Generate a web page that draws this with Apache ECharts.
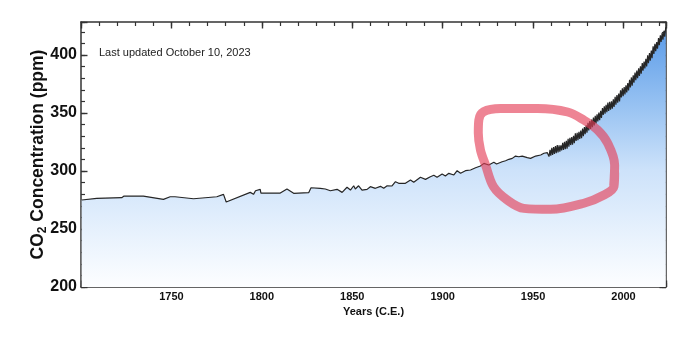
<!DOCTYPE html>
<html>
<head>
<meta charset="utf-8">
<title>CO2 Concentration</title>
<script src="https://cdn.jsdelivr.net/npm/echarts@6/dist/echarts.min.js"></script>
<style>
  html, body { margin: 0; padding: 0; background: #ffffff; }
  #chart { width: 700px; height: 338px; }
</style>
</head>
<body>
<div id="chart"></div>
<script>
// Ice-core record, 1700 to the late 1950s (year, ppm)
const iceCoreYears = [
  1700.4, 1708.7, 1722.5, 1723.8, 1734.5, 1745.6, 1749.3, 1752.0, 1752.6, 1762.2,
  1775.1, 1778.8, 1780.3, 1793.6, 1795.4, 1796.5, 1799.1, 1799.5, 1810.2, 1813.9,
  1817.6, 1825.9, 1827.2, 1832.3, 1835.1, 1837.9, 1841.6, 1844.4, 1847.1, 1849.0,
  1850.8, 1851.7, 1853.5, 1855.4, 1858.2, 1860.0, 1862.8, 1865.6, 1867.4, 1869.3,
  1872.0, 1873.9, 1875.7, 1876.6, 1879.4, 1882.2, 1884.0, 1887.7, 1890.5, 1893.2,
  1895.1, 1896.9, 1899.7, 1901.5, 1903.4, 1906.2, 1908.0, 1909.9, 1912.6, 1915.4,
  1918.2, 1920.9, 1922.8, 1925.5, 1928.3, 1929.8, 1932.9, 1934.8, 1936.6, 1938.5,
  1940.3, 1942.1, 1944.0, 1946.8, 1948.6, 1951.4, 1954.2, 1956.0, 1957.9
];
const iceCorePpm = [
  275.0, 276.5, 277.0, 278.4, 278.4, 275.6, 277.8, 277.8, 276.1, 276.1,
  277.8, 279.9, 273.3, 281.6, 279.9, 283.0, 284.2, 281.0, 281.0, 284.5,
  280.8, 281.3, 285.6, 285.1, 284.5, 283.0, 284.2, 281.6, 286.0, 283.6,
  287.3, 284.5, 287.3, 283.6, 284.2, 286.5, 285.1, 286.8, 285.1, 287.3,
  287.1, 290.8, 289.4, 289.9, 289.4, 292.2, 290.3, 294.6, 292.8, 295.1,
  296.3, 294.6, 297.4, 295.7, 298.0, 296.6, 300.3, 298.0, 300.3, 300.9,
  302.8, 304.3, 306.6, 305.2, 307.5, 306.0, 308.0, 308.9, 310.1, 310.9,
  312.9, 312.3, 312.9, 311.5, 310.9, 312.9, 313.8, 315.3, 315.8
];

// Direct atmospheric record: spring maximum and autumn minimum of each year (ppm)
const mloYears = [
  1958, 1959, 1960, 1961, 1962, 1963, 1964, 1965, 1966, 1967,
  1968, 1969, 1970, 1971, 1972, 1973, 1974, 1975, 1976, 1977,
  1978, 1979, 1980, 1981, 1982, 1983, 1984, 1985, 1986, 1987,
  1988, 1989, 1990, 1991, 1992, 1993, 1994, 1995, 1996, 1997,
  1998, 1999, 2000, 2001, 2002, 2003, 2004, 2005, 2006, 2007,
  2008, 2009, 2010, 2011, 2012, 2013, 2014, 2015, 2016, 2017,
  2018, 2019, 2020, 2021, 2022, 2023
];
const mloSpringMax = [
  317.5, 318.3, 320.0, 320.6, 321.6, 322.3, 322.2, 322.2, 324.4, 325.1,
  326.0, 327.8, 328.6, 329.3, 330.4, 332.5, 333.0, 333.9, 334.9, 336.7,
  338.0, 339.5, 341.5, 343.0, 344.3, 346.0, 347.6, 349.0, 350.4, 352.0,
  354.2, 355.9, 357.1, 359.1, 359.6, 360.2, 361.8, 364.0, 365.6, 366.8,
  369.5, 371.4, 372.4, 374.0, 375.9, 378.7, 380.7, 382.6, 384.9, 386.6,
  388.6, 390.3, 393.2, 394.3, 396.8, 399.8, 401.8, 403.9, 407.6, 409.6,
  411.2, 414.6, 417.1, 419.1, 421.0, 424.0
];
const mloAutumnMin = [
  312.4, 313.3, 313.8, 314.8, 315.4, 316.0, 316.7, 317.8, 318.1, 318.9,
  319.3, 321.0, 322.4, 322.8, 323.9, 325.9, 326.5, 327.6, 328.3, 330.1,
  331.7, 333.0, 335.1, 336.3, 337.7, 339.3, 341.0, 342.8, 343.9, 345.8,
  348.3, 349.4, 350.8, 351.8, 352.8, 353.7, 355.3, 357.1, 359.0, 359.9,
  363.5, 364.5, 366.0, 367.7, 369.5, 372.0, 373.6, 376.2, 378.3, 380.0,
  382.0, 384.0, 386.5, 388.5, 390.2, 393.0, 395.2, 397.3, 401.0, 403.4,
  405.5, 408.5, 411.4, 413.2, 415.9, null
];
// Observation months of the seasonal extremes (May and October)
const springMonth = 5;
const autumnMonth = 10;

// Hand-drawn highlight loop around the mid-century record (year, ppm)
const loopYears = [
  1994.6, 1995.1, 1991.2, 1985.7, 1978.0, 1969.1, 1952.5, 1932.0, 1922.6, 1920.0,
  1919.7, 1920.9, 1923.7, 1928.1, 1935.7, 1944.9, 1959.7, 1978.1, 1989.2, 1994.7, 1995.1
];
const loopPpm = [
  287.9, 305.2, 324.1, 335.3, 344.0, 350.9, 353.9, 353.9, 351.1, 344.0,
  332.8, 318.1, 305.2, 286.5, 275.0, 267.8, 267.0, 272.2, 279.3, 286.5, 298.3
];

// Axis ranges and labelled ticks
const yearRange = [1700, 2023.5];
const ppmRange = [200, 428.5];
const yearLabels = [1750, 1800, 1850, 1900, 1950, 2000];
const ppmLabels = [200, 250, 300, 350, 400];

const co2Series = [];
iceCoreYears.forEach((y, i) => co2Series.push([y, iceCorePpm[i]]));
mloYears.forEach((y, i) => {
  co2Series.push([y + (springMonth - 0.5) / 12, mloSpringMax[i]]);
  if (mloAutumnMin[i] != null) co2Series.push([y + (autumnMonth - 0.5) / 12, mloAutumnMin[i]]);
});
const loopData = loopYears.map((y, i) => [y, loopPpm[i]]);

const FONT = '"Liberation Sans", Arial, Helvetica, sans-serif';
const FRAME = '#333333';

function frameAxis(base) {
  return Object.assign({
    type: 'value',
    axisLine: { show: true, onZero: false, lineStyle: { color: FRAME, width: 1.5 } },
    axisTick: { show: true, inside: true, length: 4, lineStyle: { color: FRAME, width: 1.2 } },
    axisLabel: { show: false },
    splitLine: { show: false }
  }, base);
}
const majorTick = { show: true, inside: true, length: 6.5, lineStyle: { color: FRAME, width: 1.4 } };

const chart = echarts.init(document.getElementById('chart'), null, { renderer: 'canvas' });
chart.setOption({
  animation: false,
  backgroundColor: '#ffffff',
  title: {
    text: 'Last updated October 10, 2023',
    left: 99, top: 47, padding: 0,
    textStyle: { fontSize: 11, fontWeight: 'normal', color: '#222', fontFamily: FONT }
  },
  grid: { left: 81, right: 34, top: 22, bottom: 51, containLabel: false, outerBoundsMode: 'none' },
  xAxis: [
    frameAxis({
      position: 'bottom', min: yearRange[0], max: yearRange[1], interval: 10,
      axisLabel: {
        show: true, margin: 4, fontSize: 11, fontWeight: 'bold', color: '#111', fontFamily: FONT,
        formatter: v => yearLabels.includes(v) ? String(v) : ''
      },
      name: 'Years (C.E.)', nameLocation: 'middle', nameGap: 19, nameMoveOverlap: false,
      nameTextStyle: { fontSize: 11, fontWeight: 'bold', color: '#111', fontFamily: FONT }
    }),
    frameAxis({ position: 'bottom', min: yearRange[0], max: yearRange[1], interval: 50,
      axisLine: { show: false }, axisTick: majorTick }),
    frameAxis({ position: 'top', min: yearRange[0], max: yearRange[1], interval: 10 }),
    frameAxis({ position: 'top', min: yearRange[0], max: yearRange[1], interval: 50,
      axisLine: { show: false }, axisTick: majorTick })
  ],
  yAxis: [
    frameAxis({
      position: 'left', min: ppmRange[0], max: ppmRange[1], interval: 10,
      axisLabel: {
        show: true, margin: 4, fontSize: 16, fontWeight: 'bold', color: '#111', fontFamily: FONT,
        formatter: v => ppmLabels.includes(v) ? String(v) : ''
      },
      name: '{m|CO}{s|2}{m| Concentration (ppm)}', nameLocation: 'middle', nameGap: 32, nameMoveOverlap: false,
      nameTextStyle: {
        rich: {
          m: { fontSize: 17.5, fontWeight: 'bold', color: '#111', fontFamily: FONT, lineHeight: 22 },
          s: { fontSize: 12, fontWeight: 'bold', color: '#111', fontFamily: FONT, lineHeight: 9, verticalAlign: 'bottom' }
        }
      }
    }),
    frameAxis({ position: 'left', min: ppmRange[0], max: ppmRange[1], interval: 50,
      axisLine: { show: false }, axisTick: majorTick }),
    frameAxis({ position: 'right', min: ppmRange[0], max: ppmRange[1], interval: 10 }),
    frameAxis({ position: 'right', min: ppmRange[0], max: ppmRange[1], interval: 50,
      axisLine: { show: false }, axisTick: majorTick })
  ],
  series: [
    {
      name: 'CO2', type: 'line', xAxisIndex: 0, yAxisIndex: 0,
      data: co2Series, showSymbol: false, symbol: 'none',
      lineStyle: { color: '#262626', width: 1.2 },
      areaStyle: {
        color: new echarts.graphic.LinearGradient(0, 0, 0, 1, [
          { offset: 0, color: '#5a9be8' },
          { offset: 0.3, color: '#97c2f2' },
          { offset: 0.55, color: '#cde2fa' },
          { offset: 0.8, color: '#e8f2fd' },
          { offset: 1, color: '#fdfeff' }
        ]),
        opacity: 1
      },
      z: 2
    },
    {
      name: 'highlight', type: 'line', xAxisIndex: 0, yAxisIndex: 0,
      data: loopData, showSymbol: false, symbol: 'none', smooth: 0.35,
      lineStyle: { color: 'rgba(228, 62, 88, 0.64)', width: 9, cap: 'round', join: 'round' },
      z: 5
    }
  ]
});
</script>
</body>
</html>
